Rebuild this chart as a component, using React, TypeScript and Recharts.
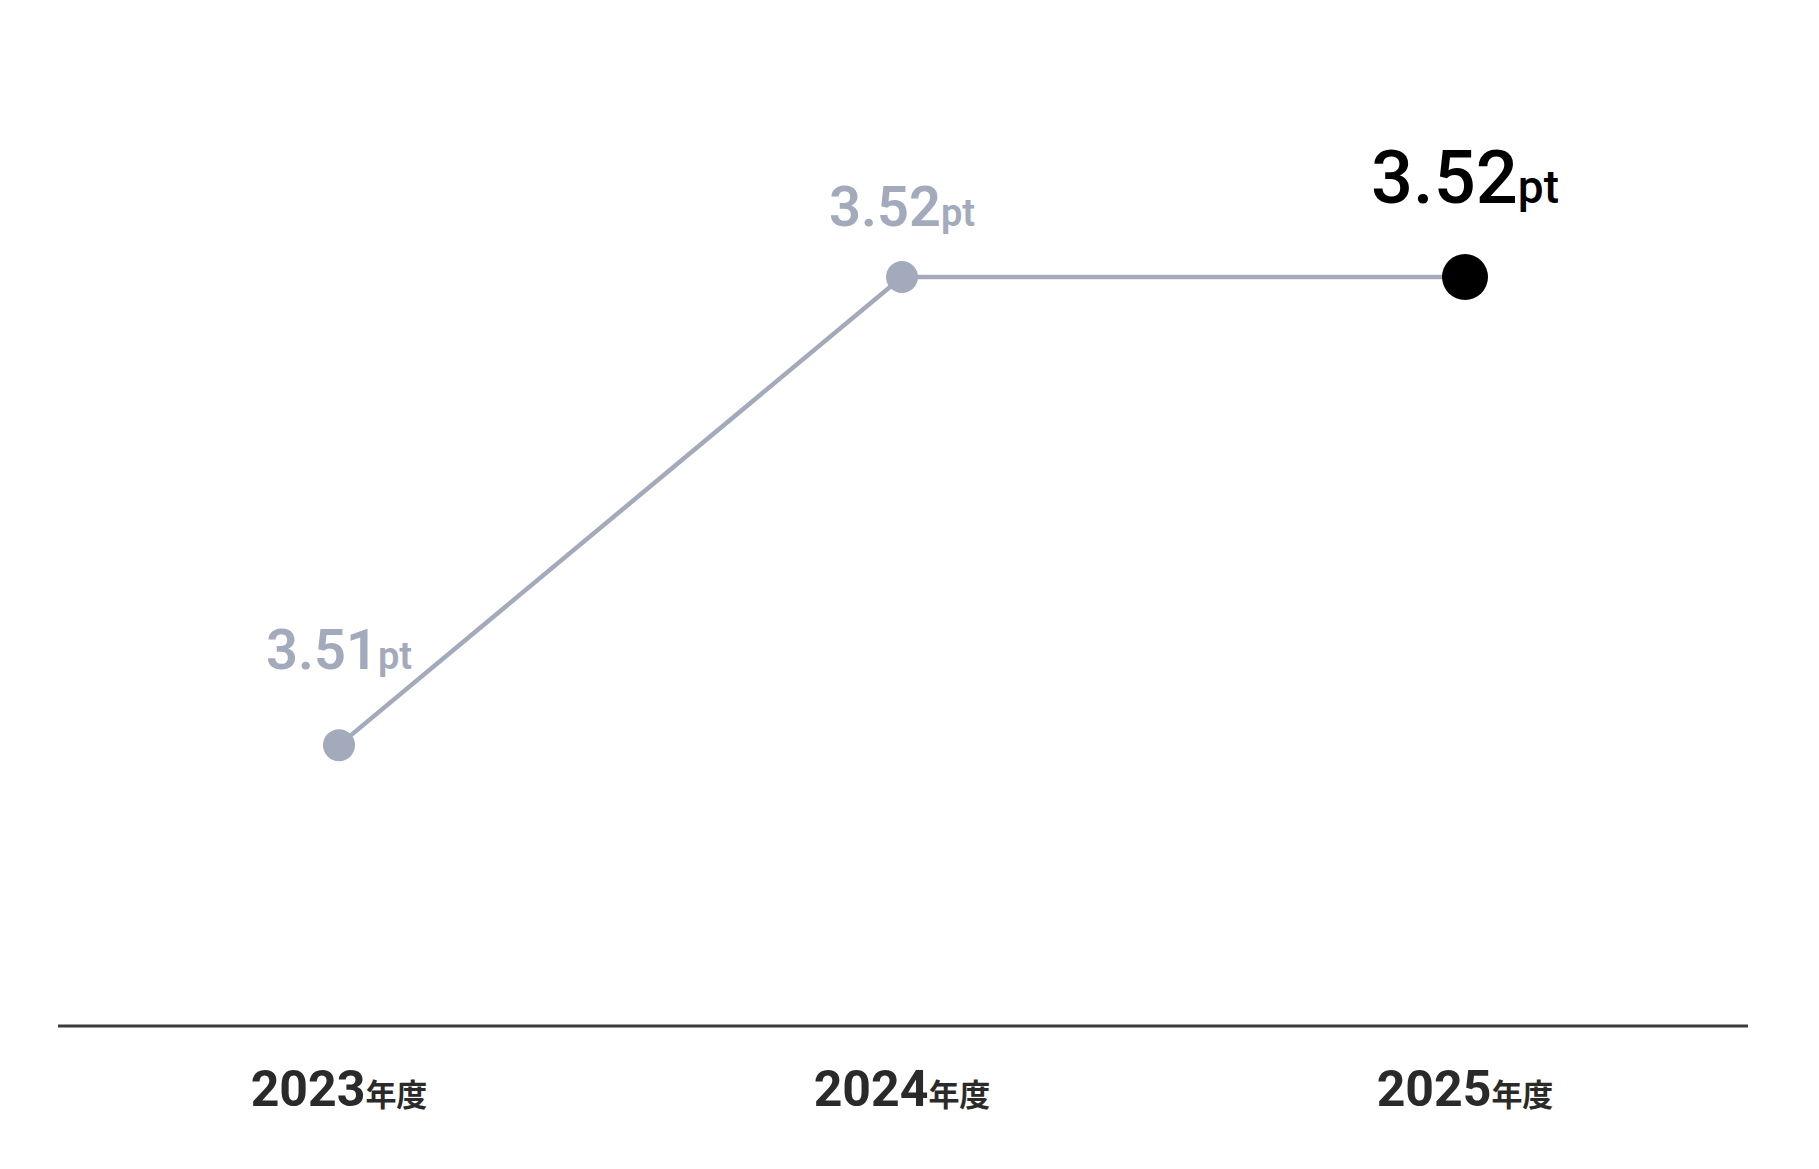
import { LineChart, Line, XAxis, YAxis, LabelList } from 'recharts';

const years = ['2023', '2024', '2025'];
const values = [3.51, 3.52, 3.52];
const valueLabels = ['3.51', '3.52', '3.52'];

const GREY = '#a2aabb';
const FONT = 'Roboto, "Noto Sans CJK JP", sans-serif';

const data = years.map((y, i) => ({ year: y, value: values[i], label: valueLabels[i] }));
const lastIdx = data.length - 1;

function YearTick(props: any) {
  const { x, y, payload } = props;
  return (
    <text x={x} y={y + 72} textAnchor="middle" fontFamily={FONT} fontWeight={700} fill="#2a2a2a">
      <tspan fontSize={50}>{payload.value}</tspan>
      <tspan fontSize={31} fontFamily='"Noto Sans CJK JP", sans-serif'>年度</tspan>
    </text>
  );
}

function Dot(props: any) {
  const { cx, cy, index } = props;
  const last = index === lastIdx;
  return <circle key={index} cx={cx} cy={cy} r={last ? 23 : 16} fill={last ? '#000' : GREY} />;
}

// label baseline distance above the point
const labelGap = [76, 51, 74];

function ValueLabel(props: any) {
  const { x, y, index, value } = props;
  const last = index === lastIdx;
  return (
    <text
      x={x}
      y={y - labelGap[index]}
      textAnchor="middle"
      fontFamily={FONT}
      fontWeight={last ? 500 : 600}
      fill={last ? '#000' : GREY}
    >
      <tspan fontSize={last ? 74 : 56}>{value}</tspan>
      <tspan fontSize={last ? 46 : 38}>pt</tspan>
    </text>
  );
}

export default function App() {
  return (
    <div style={{ position: 'absolute', left: 0, top: 0, width: 1819, height: 1169, background: '#fff' }}>
      <LineChart width={1819} height={1169} data={data} margin={{ top: 43, right: 71, bottom: 0, left: 58 }}>
        <XAxis
          dataKey="year"
          axisLine={{ stroke: '#3c3c3c', strokeWidth: 3 }}
          tickLine={false}
          padding={{ left: 281, right: 283 }}
          tick={<YearTick />}
          interval={0}
          height={143}
        />
        <YAxis hide domain={[3.504, 3.525]} allowDataOverflow />
        <Line
          dataKey="value"
          stroke={GREY}
          strokeWidth={4.5}
          dot={<Dot />}
          activeDot={false}
          isAnimationActive={false}
        >
          <LabelList dataKey="label" content={<ValueLabel />} />
        </Line>
      </LineChart>
    </div>
  );
}
